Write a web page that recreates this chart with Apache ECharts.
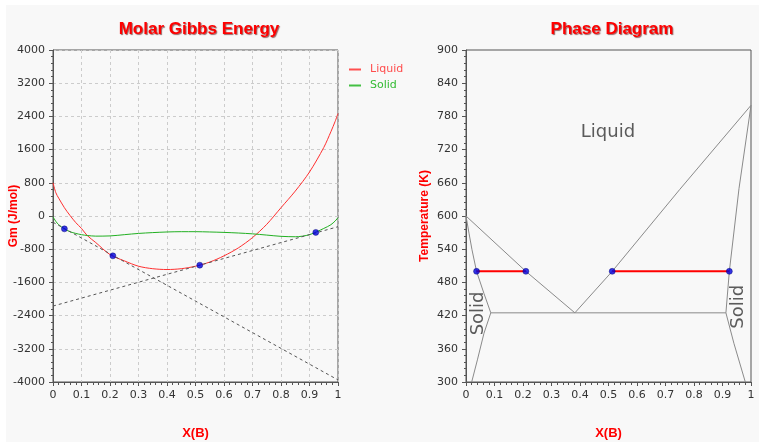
<!DOCTYPE html>
<html>
<head>
<meta charset="utf-8">
<script src="https://cdn.jsdelivr.net/npm/echarts@6/dist/echarts.min.js"></script>
<style>
  html, body { margin: 0; padding: 0; background: #fff; }
  #main { width: 759px; height: 442px; }
</style>
</head>
<body>
<div id="main"></div>
<script>
// gibbs energy curves, x = mole fraction of B
const gmX = [0, 0.01, 0.02, 0.04, 0.06, 0.08, 0.10, 0.12, 0.15, 0.20, 0.25, 0.30, 0.35, 0.40, 0.45, 0.50,
  0.55, 0.60, 0.65, 0.70, 0.75, 0.80, 0.85, 0.90, 0.95, 0.975, 0.99, 1.00];
const gmLiquid = [800, 560, 430, 200, 10, -160, -300, -470, -640, -930, -1080, -1210, -1270, -1290, -1270, -1210,
  -1110, -960, -770, -520, -200, 200, 600, 1060, 1650, 2030, 2280, 2470];
const gmSolid = [-20, -130, -210, -310, -380, -420, -450, -470, -485, -480, -450, -420, -400, -385, -378, -378,
  -385, -395, -410, -430, -460, -490, -500, -450, -300, -210, -120, -40];
// common tangents
const tangentA = [[0, -150], [1, -3950]];
const tangentB = [[0, -2170], [1, -258]];
const tangentPts = [[0.04, -310], [0.21, -960], [0.515, -1185], [0.922, -395]];

// phase diagram boundaries [x, T]
const liquidusLeft = [[0, 600], [0.21, 500], [0.382, 425]];
const liquidusRight = [[0.382, 425], [0.513, 500], [0.75, 648], [1, 800]];
const solidusLeft = [[0, 600], [0.0105, 569], [0.021, 539], [0.037, 500], [0.063, 460], [0.087, 425]];
const solvusLeft = [[0.087, 425], [0.063, 388], [0.04, 340], [0.02, 300]];
const solidusRight = [[1, 800], [0.958, 650], [0.924, 500], [0.912, 425]];
const solvusRight = [[0.912, 425], [0.94, 370], [0.98, 300]];
const eutectic = [[0.087, 425], [0.912, 425]];
const tieLeft = [[0.037, 500], [0.21, 500]];
const tieRight = [[0.513, 500], [0.924, 500]];

const chart = echarts.init(document.getElementById('main'));

const labelFont = 'DejaVu Sans';
const titleFont = 'Liberation Sans';

function xAxisFor(grid, grid_lines) {
  return {
    type: 'value', gridIndex: grid, min: 0, max: 1, interval: 0.1,
    name: 'X(B)', nameLocation: 'middle', nameGap: 45, nameMoveOverlap: false,
    nameTextStyle: { color: '#ff0000', fontWeight: 'bold', fontSize: 13, fontFamily: titleFont },
    axisLine: { onZero: false, lineStyle: { color: '#555' } },
    axisTick: { length: 4, lineStyle: { color: '#555' } },
    minorTick: { show: true, splitNumber: 5, length: 3, lineStyle: { color: '#555' } },
    axisLabel: { color: '#333', fontSize: 11, fontFamily: labelFont, margin: 8, formatter: v => String(v) },
    splitLine: { show: grid_lines, lineStyle: { color: '#ccc', type: [3, 3] } }
  };
}

function yAxisFor(grid, min, max, interval, name, gap, grid_lines) {
  return {
    type: 'value', gridIndex: grid, min: min, max: max, interval: interval,
    name: name, nameLocation: 'middle', nameGap: gap, nameMoveOverlap: false,
    nameTextStyle: { color: '#ff0000', fontWeight: 'bold', fontSize: 12, fontFamily: titleFont },
    axisLine: { show: true, onZero: false, lineStyle: { color: '#555' } },
    axisTick: { show: true, length: 4, lineStyle: { color: '#555' } },
    minorTick: { show: true, splitNumber: 5, length: 2, lineStyle: { color: '#555' } },
    axisLabel: { color: '#333', fontSize: 11, fontFamily: labelFont, margin: 8, formatter: v => String(v) },
    splitLine: { show: grid_lines, lineStyle: { color: '#ccc', type: [3, 3] } }
  };
}

const zip = (xs, ys) => xs.map((x, i) => [x, ys[i]]);

const boundary = (data) => ({
  type: 'line', xAxisIndex: 1, yAxisIndex: 1, data: data, symbol: 'none',
  lineStyle: { color: '#8a8a8a', width: 1 }, silent: true
});

const areaText = (x, y, text, rotate) => ({
  type: 'scatter', xAxisIndex: 1, yAxisIndex: 1, data: [[x, y]], symbolSize: 0, silent: true,
  label: { show: true, position: 'inside', formatter: text, rotate: rotate || 0,
    color: '#333', fontSize: 18, fontFamily: labelFont }
});

chart.setOption({
  animation: false,
  backgroundColor: '#ffffff',
  graphic: [{ type: 'rect', z: -10, shape: { x: 6, y: 5, width: 753, height: 437 }, style: { fill: '#f8f8f8' } }],
  title: [
    { text: 'Molar Gibbs Energy', left: 194, top: 16, textAlign: 'center',
      textStyle: { color: '#ff0000', fontSize: 17, fontWeight: 'bold', fontFamily: titleFont,
        textShadowColor: 'rgba(90,0,0,0.6)', textShadowBlur: 1, textShadowOffsetX: 1, textShadowOffsetY: 1 } },
    { text: 'Phase Diagram', left: 607, top: 16, textAlign: 'center',
      textStyle: { color: '#ff0000', fontSize: 17, fontWeight: 'bold', fontFamily: titleFont,
        textShadowColor: 'rgba(90,0,0,0.6)', textShadowBlur: 1, textShadowOffsetX: 1, textShadowOffsetY: 1 } }
  ],
  legend: {
    left: 344, top: 59, orient: 'vertical', itemGap: 5, itemWidth: 12, itemHeight: 2, icon: 'rect',
    textStyle: { fontSize: 11, fontFamily: labelFont, padding: [0, 0, 0, 4] },
    data: [
      { name: 'Liquid', textStyle: { color: '#ff4d4d' } },
      { name: 'Solid', textStyle: { color: '#33bb33' } }
    ]
  },
  grid: [
    { left: 53, top: 50, width: 285, height: 332, outerBoundsMode: 'none', containLabel: false,
      show: true, borderColor: '#555', borderWidth: 1, backgroundColor: 'transparent' },
    { left: 466, top: 50, width: 285, height: 332, outerBoundsMode: 'none', containLabel: false,
      show: true, borderColor: '#555', borderWidth: 1, backgroundColor: 'transparent' }
  ],
  xAxis: [xAxisFor(0, true), xAxisFor(1, false)],
  yAxis: [
    yAxisFor(0, -4000, 4000, 800, 'Gm (J/mol)', 33, true),
    yAxisFor(1, 300, 900, 60, 'Temperature (K)', 35, false)
  ],
  series: [
    { name: 'Liquid', type: 'line', data: zip(gmX, gmLiquid), symbol: 'none', smooth: 0.3,
      lineStyle: { color: '#ff3030', width: 1 }, itemStyle: { color: '#ff5050' } },
    { name: 'Solid', type: 'line', data: zip(gmX, gmSolid), symbol: 'none', smooth: 0.3,
      lineStyle: { color: '#22b022', width: 1 }, itemStyle: { color: '#44c044' } },
    { type: 'line', data: tangentA, symbol: 'none', lineStyle: { color: '#555', width: 1, type: [3, 3] } },
    { type: 'line', data: tangentB, symbol: 'none', lineStyle: { color: '#555', width: 1, type: [3, 3] } },
    { type: 'scatter', data: tangentPts, symbolSize: 6, z: 5,
      itemStyle: { color: '#0000dd', borderColor: '#000066', borderWidth: 0.5 } },

    boundary(liquidusLeft),
    boundary(liquidusRight),
    boundary(solidusLeft),
    boundary(solvusLeft),
    boundary(solidusRight),
    boundary(solvusRight),
    boundary(eutectic),
    { type: 'line', xAxisIndex: 1, yAxisIndex: 1, data: tieLeft, symbol: 'none', z: 4,
      lineStyle: { color: '#ff0000', width: 2 } },
    { type: 'line', xAxisIndex: 1, yAxisIndex: 1, data: tieRight, symbol: 'none', z: 4,
      lineStyle: { color: '#ff0000', width: 2 } },
    { type: 'scatter', xAxisIndex: 1, yAxisIndex: 1, data: tieLeft.concat(tieRight), symbolSize: 6, z: 5,
      itemStyle: { color: '#0000dd', borderColor: '#000066', borderWidth: 0.5 } },
    areaText(0.498, 752, 'Liquid'),
    areaText(0.045, 424, 'Solid', 90),
    areaText(0.955, 436, 'Solid', 90)
  ]
});

window.addEventListener('resize', () => chart.resize());
</script>
</body>
</html>
